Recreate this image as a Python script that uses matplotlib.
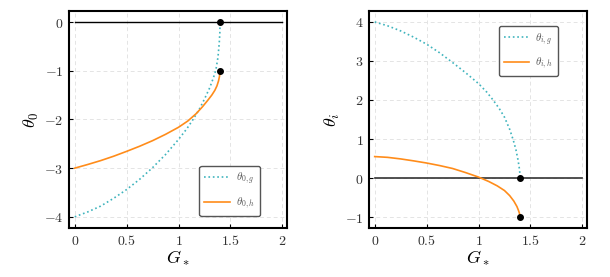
import matplotlib
matplotlib.use("Agg")
import matplotlib.pyplot as plt
from matplotlib.ticker import FuncFormatter

plt.rcParams['mathtext.fontset'] = 'cm'
plt.rcParams['font.family'] = 'serif'
plt.rcParams['font.serif'] = ['DejaVu Serif']

# values
G0g = [0.0, 0.125, 0.25, 0.375, 0.5, 0.625, 0.75, 0.875, 1.0, 1.08, 1.14, 1.20, 1.25, 1.30,
       1.335, 1.36, 1.38, 1.392, 1.398, 1.40]
theta0_g = [-4.0, -3.90, -3.78, -3.62, -3.44, -3.23, -2.99, -2.72, -2.41, -2.19, -2.00,
            -1.79, -1.58, -1.35, -1.15, -0.98, -0.72, -0.44, -0.22, 0.0]
G0h = [0.0, 0.125, 0.25, 0.375, 0.5, 0.625, 0.75, 0.875, 1.0, 1.09, 1.17, 1.23, 1.28, 1.32,
       1.35, 1.37, 1.385, 1.395, 1.40]
theta0_h = [-3.0, -2.925, -2.845, -2.755, -2.655, -2.55, -2.435, -2.305, -2.16, -2.03,
            -1.88, -1.74, -1.61, -1.50, -1.40, -1.31, -1.21, -1.11, -1.0]
Gig = [0.0, 0.125, 0.25, 0.375, 0.5, 0.625, 0.75, 0.875, 1.0, 1.08, 1.14, 1.20, 1.25, 1.30,
       1.335, 1.36, 1.38, 1.392, 1.398, 1.40]
thetai_g = [4.0, 3.90, 3.77, 3.61, 3.43, 3.21, 2.96, 2.70, 2.42, 2.20, 2.00, 1.78, 1.56,
            1.25, 0.97, 0.73, 0.47, 0.27, 0.13, 0.0]
Gih = [0.0, 0.125, 0.25, 0.375, 0.5, 0.625, 0.75, 0.875, 1.0, 1.10, 1.18, 1.25, 1.30, 1.34,
       1.37, 1.385, 1.395, 1.40]
thetai_h = [0.55, 0.53, 0.49, 0.44, 0.385, 0.32, 0.245, 0.14, 0.025, -0.09, -0.20, -0.32,
            -0.45, -0.59, -0.73, -0.83, -0.91, -1.0]

G_end = 1.40
left_dots = [0.0, -1.0]
right_dots = [0.0, -1.0]

teal = '#3fb4bd'
orange = '#ff8c1a'

fig = plt.figure(figsize=(6.1, 2.77), dpi=100)
ax1 = fig.add_axes([0.1131, 0.1769, 0.3574, 0.7834])
ax2 = fig.add_axes([0.6049, 0.1769, 0.3574, 0.7834])

math_fmt = FuncFormatter(lambda v, p: r'$%g$' % v)


def style(ax):
    for s in ax.spines.values():
        s.set_linewidth(1.5)
        s.set_color('black')
    ax.grid(True, ls=(0, (4, 3)), color='#e4e4e4', lw=0.7)
    ax.set_axisbelow(True)
    ax.tick_params(direction='in', length=3, width=0.8, labelsize=10,
                   labelcolor='#333333', pad=4)
    ax.set_xlim(-0.055, 2.045)
    ax.set_xticks([0, 0.5, 1, 1.5, 2])
    ax.xaxis.set_major_formatter(math_fmt)
    ax.yaxis.set_major_formatter(math_fmt)
    ax.set_xlabel(r'$G_*$', fontsize=13, labelpad=1)


def legend(ax, loc, anchor):
    leg = ax.legend(loc=loc, bbox_to_anchor=anchor, borderaxespad=0, fontsize=8,
                    handlelength=2.3, handletextpad=0.55, borderpad=0.45,
                    labelspacing=0.85, fancybox=True, framealpha=1)
    leg.get_frame().set_edgecolor('#555555')
    leg.get_frame().set_linewidth(1)
    for t in leg.get_texts():
        t.set_color('#555555')


# left panel
ax1.plot([0, 2], [0, 0], color='black', lw=1)
ax1.plot(G0g, theta0_g, color=teal, ls=':', lw=1.2, label=r'$\theta_{0,g}$')
ax1.plot(G0h, theta0_h, color=orange, lw=1.2, label=r'$\theta_{0,h}$')
ax1.plot([G_end] * 2, left_dots, 'o', color='black', ms=4, zorder=5)
style(ax1)
ax1.set_ylim(-4.23, 0.23)
ax1.set_yticks([-4, -3, -2, -1, 0])
ax1.set_ylabel(r'$\theta_0$', fontsize=13, labelpad=2)
legend(ax1, 'lower right', (0.876, 0.055))

# right panel
ax2.plot([0, 2], [0, 0], color='#333333', lw=1.2)
ax2.plot(Gig, thetai_g, color=teal, ls=':', lw=1.2, label=r'$\theta_{i,g}$')
ax2.plot(Gih, thetai_h, color=orange, lw=1.2, label=r'$\theta_{i,h}$')
ax2.plot([G_end] * 2, right_dots, 'o', color='black', ms=4, zorder=5)
style(ax2)
ax2.set_ylim(-1.28, 4.28)
ax2.set_yticks([-1, 0, 1, 2, 3, 4])
ax2.set_ylabel(r'$\theta_i$', fontsize=13, labelpad=2)
legend(ax2, 'upper right', (0.867, 0.931))

fig.savefig('out.png', dpi=100)
